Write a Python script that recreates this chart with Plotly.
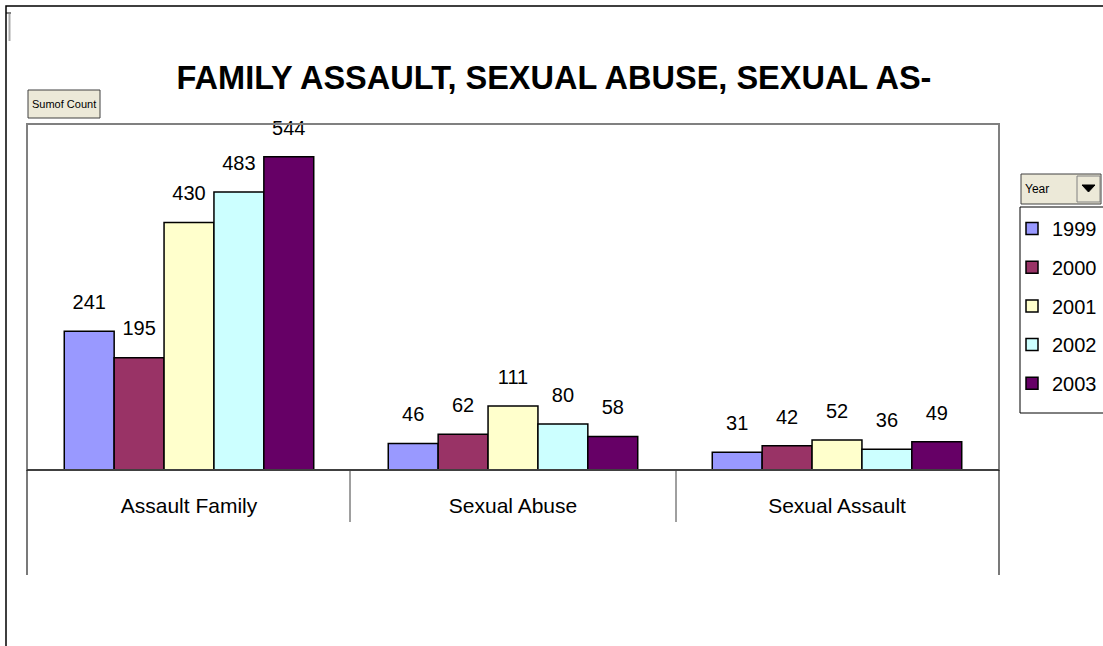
import plotly.graph_objects as go

categories = ["Assault Family", "Sexual Abuse", "Sexual Assault"]
years = ["1999", "2000", "2001", "2002", "2003"]
v1999 = [241, 46, 31]
v2000 = [195, 62, 42]
v2001 = [430, 111, 52]
v2002 = [483, 80, 36]
v2003 = [544, 58, 49]
series = [v1999, v2000, v2001, v2002, v2003]
colors = ["#9999FF", "#993366", "#FFFFCC", "#CCFFFF", "#660066"]

W, H = 1103, 646
PL, PR, PT, PB = 27, 999, 124, 470  # plot area in pixels
FONT = "Liberation Sans, Arial"


def px(x):
    return (x - PL) / (PR - PL)


def py(y):
    return (PB - y) / (PB - PT)


fig = go.Figure()
for i, (yr, vals, col) in enumerate(zip(years, series, colors)):
    fig.add_trace(go.Bar(
        name=yr, x=categories, y=vals, legendgroup=yr, offsetgroup=str(i),
        marker=dict(color=col, line=dict(color="black", width=1.5)),
        hoverinfo="skip",
    ))
for i, (yr, vals) in enumerate(zip(years, series)):
    fig.add_trace(go.Scatter(
        x=categories, y=vals, offsetgroup=str(i), mode="markers+text",
        text=[str(v) for v in vals], textposition="top center",
        textfont=dict(family=FONT, size=20, color="black"),
        marker=dict(size=26, opacity=0), showlegend=False, hoverinfo="skip",
        cliponaxis=False,
    ))

shapes = []
# outer chart border
shapes.append(dict(type="rect", xref="paper", yref="paper", x0=px(6), x1=px(1120), y0=py(6), y1=py(700),
                   line=dict(color="black", width=1.5), layer="below"))
# small artifact top-left
shapes.append(dict(type="line", xref="paper", yref="paper", x0=px(6), x1=px(11), y0=py(13), y1=py(13),
                   line=dict(color="black", width=1)))
shapes.append(dict(type="line", xref="paper", yref="paper", x0=px(9.5), x1=px(9.5), y0=py(14), y1=py(41),
                   line=dict(color="#aaaaaa", width=2)))
# plot area frame (grey)
shapes.append(dict(type="rect", xref="paper", yref="paper", x0=0, x1=1, y0=0, y1=1,
                   line=dict(color="#808080", width=2)))
# baseline
shapes.append(dict(type="line", xref="paper", yref="paper", x0=0, x1=1, y0=0, y1=0,
                   line=dict(color="#404040", width=2)))
# category separators below axis
for xs in [350, 676]:
    shapes.append(dict(type="line", xref="paper", yref="paper", x0=px(xs), x1=px(xs), y0=0, y1=py(522),
                       line=dict(color="#404040", width=1)))
for xs in [PL, PR]:
    shapes.append(dict(type="line", xref="paper", yref="paper", x0=px(xs), x1=px(xs), y0=0, y1=py(575),
                       line=dict(color="#202020", width=1.2)))
# "Sumof Count" button
shapes.append(dict(type="rect", xref="paper", yref="paper", x0=px(28), x1=px(100), y0=py(90), y1=py(118),
                   line=dict(color="#404040", width=1), fillcolor="#ECE9D8"))
# "Year" field button
shapes.append(dict(type="rect", xref="paper", yref="paper", x0=px(1021), x1=px(1101), y0=py(174), y1=py(204),
                   line=dict(color="#404040", width=1), fillcolor="#ECE9D8"))
shapes.append(dict(type="rect", xref="paper", yref="paper", x0=px(1077), x1=px(1100), y0=py(176), y1=py(202),
                   line=dict(color="#808080", width=1), fillcolor="#ECE9D8"))
shapes.append(dict(type="path", xref="paper", yref="paper",
                   path=f"M {px(1082)} {py(185)} L {px(1095)} {py(185)} L {px(1088.5)} {py(192)} Z",
                   line=dict(color="black", width=1), fillcolor="black"))
# legend box
shapes.append(dict(type="rect", xref="paper", yref="paper", x0=px(1020), x1=px(1130), y0=py(207), y1=py(413),
                   line=dict(color="black", width=1), fillcolor="white", layer="below"))

annotations = [
    dict(text="Sumof Count", xref="paper", yref="paper", x=px(64), y=py(104), showarrow=False,
         font=dict(family=FONT, size=11, color="black"), xanchor="center", yanchor="middle"),
    dict(text="Year", xref="paper", yref="paper", x=px(1023), y=py(189), showarrow=False,
         font=dict(family=FONT, size=12, color="black"), xanchor="left", yanchor="middle"),
]

fig.update_layout(
    width=W, height=H,
    margin=dict(l=PL, r=W - PR, t=PT, b=H - PB, autoexpand=False),
    paper_bgcolor="white", plot_bgcolor="rgba(0,0,0,0)",
    barmode="group", bargap=0.23, bargroupgap=0,
    scattermode="group", scattergap=0.23,
    title=dict(text="<b>FAMILY ASSAULT, SEXUAL ABUSE, SEXUAL AS-</b>",
               x=554 / W, xref="container", xanchor="center",
               y=1 - 78 / H, yref="container", yanchor="middle",
               font=dict(family=FONT, size=32.5, color="black")),
    xaxis=dict(showgrid=False, showline=False, ticks="", zeroline=False,
               tickfont=dict(family=FONT, size=21, color="black"),
               ticklabelstandoff=21),
    yaxis=dict(visible=False, range=[0, 601]),
    legend=dict(x=px(1012), xanchor="left", y=py(209), yanchor="top",
                bgcolor="rgba(0,0,0,0)", borderwidth=0,
                font=dict(family=FONT, size=20, color="black"),
                tracegroupgap=9.7, itemwidth=30),
    showlegend=True,
    shapes=shapes, annotations=annotations,
)

fig.write_html("out.html", config={"displayModeBar": False},
               post_script="document.body.style.margin='0';")
